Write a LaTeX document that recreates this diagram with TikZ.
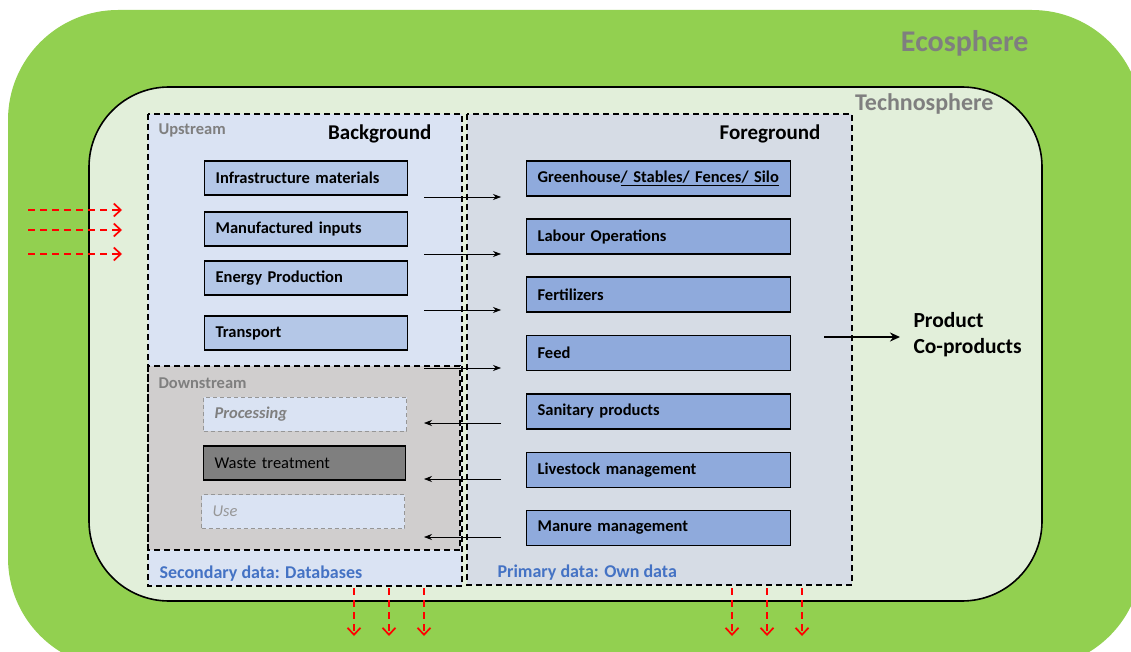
\documentclass[tikz,border=0pt]{standalone}
\usepackage{fontspec}
\setmainfont{Carlito}
\usetikzlibrary{arrows.meta}
\definecolor{eco}{RGB}{146,208,80}
\definecolor{techno}{RGB}{226,239,218}
\definecolor{bgfill}{RGB}{218,227,243}
\definecolor{fgfill}{RGB}{214,220,229}
\definecolor{dsfill}{RGB}{208,206,206}
\definecolor{upbox}{RGB}{180,199,231}
\definecolor{fgbox}{RGB}{143,170,220}
\definecolor{labgray}{RGB}{127,127,127}
\definecolor{lightgray2}{RGB}{150,150,150}
\definecolor{datablue}{RGB}{68,114,196}
\definecolor{wastefill}{RGB}{127,127,127}
\begin{document}
\begin{tikzpicture}[x=1pt,y=-1pt,
  region/.style={draw=black, line width=1.8pt, dash pattern=on 6pt off 4pt},
  boxtext/.style={font={\fontsize{16.5pt}{19pt}\selectfont\bfseries}},
  upstreambox/.style={draw=black, line width=1.2pt, fill=upbox, anchor=west,
    text width=181pt, inner xsep=11pt, minimum height=34pt, align=left, boxtext},
  fgboxstyle/.style={draw=black, line width=1.2pt, fill=fgbox, anchor=west,
    text width=242pt, inner xsep=11pt, minimum height=35pt, align=left, boxtext},
  dashbox/.style={draw=lightgray2, line width=1pt, dash pattern=on 4pt off 3pt, fill=bgfill, anchor=west,
    text width=181pt, inner xsep=11pt, minimum height=34pt, align=left},
  sublabel/.style={anchor=west, text=labgray, font={\fontsize{16.5pt}{19pt}\selectfont\bfseries}},
  title/.style={font={\fontsize{21pt}{25pt}\selectfont\bfseries}},
  datalabel/.style={anchor=west, text=datablue, font={\fontsize{18pt}{21pt}\selectfont\bfseries}},
  flow/.style={-{Stealth[length=8pt,width=6pt]}, line width=0.7pt},
  emission/.style={red, line width=1.8pt, dash pattern=on 7pt off 5pt, -{Straight Barb[length=7pt,width=13pt,line width=1.7pt]}}
]
\useasboundingbox (0,0) rectangle (1131,652);
\clip (0,0) rectangle (1131,652);
% spheres
\fill[eco, rounded corners=110] (8,10) rectangle (1142,668);
\draw[line width=1.6pt, fill=techno, rounded corners=80] (89,87) rectangle (1042,601);
\node[anchor=east, text=labgray, font={\fontsize{30pt}{34pt}\selectfont\bfseries}] (eco) at (1032,43) {Ecosphere};
\node[anchor=east, text=labgray, font={\fontsize{24pt}{28pt}\selectfont\bfseries}] (techno) at (997,104) {Technosphere};
% regions
\fill[bgfill] (148,114) rectangle (462,586);
\fill[fgfill] (467,114) rectangle (852,585);
\fill[dsfill] (148,366) rectangle (460,550);
\draw[region] (148,366) rectangle (460,550);
\draw[region] (148,114) rectangle (462,586);
\draw[region] (467,114) rectangle (852,585);
% labels
\node[sublabel] (up) at (155,130) {Upstream};
\node[sublabel] (down) at (155,383) {Downstream};
\node[title, anchor=east] (bgt) at (435,134) {Background};
\node[title, anchor=east] (fgt) at (824,134) {Foreground};
\node[datalabel] (sec) at (156,574) {Secondary data: Databases};
\node[datalabel] (prim) at (494,573) {Primary data: Own data};
% upstream boxes
\node[upstreambox] (infra) at (204,178) {Infrastructure materials};
\node[upstreambox] (manu) at (204,229) {Manufactured inputs};
\node[upstreambox] (energy) at (204,278) {Energy Production};
\node[upstreambox] (trans) at (204,333) {Transport};
% downstream boxes
\node[dashbox, text=labgray, font={\fontsize{16.5pt}{19pt}\selectfont\bfseries\itshape}] (proc) at (203,414) {Processing};
\node[draw=black, line width=1.2pt, fill=wastefill, anchor=west, text width=180pt, inner xsep=11pt,
  minimum height=34pt, align=left, font={\fontsize{16.5pt}{19pt}\selectfont}] (waste) at (203,463) {Waste treatment};
\node[dashbox, text=lightgray2, font={\fontsize{16.5pt}{19pt}\selectfont\itshape}] (use) at (201,511.5) {Use};
% foreground boxes
\node[fgboxstyle] (green) at (526,178.5) {Greenhouse\underline{/ Stables/ Fences/ Silo}};
\node[fgboxstyle] (labour) at (526,236.5) {Labour Operations};
\node[fgboxstyle] (fert) at (526,294.5) {Fertilizers};
\node[fgboxstyle] (feed) at (526,353) {Feed};
\node[fgboxstyle] (sanit) at (526,411.5) {Sanitary products};
\node[fgboxstyle] (live) at (526,470) {Livestock management};
\node[fgboxstyle] (manure) at (526,528) {Manure management};
% flows between background and foreground
\coordinate (r1a) at (424,197); \coordinate (r1b) at (501,197);
\coordinate (r2a) at (424,254); \coordinate (r2b) at (501,254);
\coordinate (r3a) at (424,310); \coordinate (r3b) at (501,310);
\coordinate (r4a) at (424,368); \coordinate (r4b) at (501,368);
\coordinate (l1a) at (501,423); \coordinate (l1b) at (424,423);
\coordinate (l2a) at (501,479); \coordinate (l2b) at (424,479);
\coordinate (l3a) at (501,537); \coordinate (l3b) at (424,537);
\foreach \s/\e in {r1a/r1b,r2a/r2b,r3a/r3b,r4a/r4b,l1a/l1b,l2a/l2b,l3a/l3b}
  \draw[flow] (\s) -- (\e);
% product
\node[anchor=west, align=left, font={\fontsize{21.5pt}{26pt}\selectfont\bfseries}] (prod) at (910,335) {Product\\Co-products};
\coordinate (pa) at (824,337);
\coordinate (pb) at (900,337);
\draw[line width=2.6pt, -{Stealth[length=10pt,width=9pt]}] (pa) -- (pb);
% emissions in
\foreach \y/\n in {210/a,230/b,254/c}{
  \coordinate (ei\n) at (28,\y); \coordinate (ee\n) at (122,\y);
  \draw[emission] (ei\n) -- (ee\n);
}
% emissions out
\foreach \x/\n in {354/a,389/b,424/c,732/d,767/e,802/f}{
  \coordinate (os\n) at (\x,588); \coordinate (oe\n) at (\x,636);
  \draw[emission] (os\n) -- (oe\n);
}
\end{tikzpicture}
\end{document}
